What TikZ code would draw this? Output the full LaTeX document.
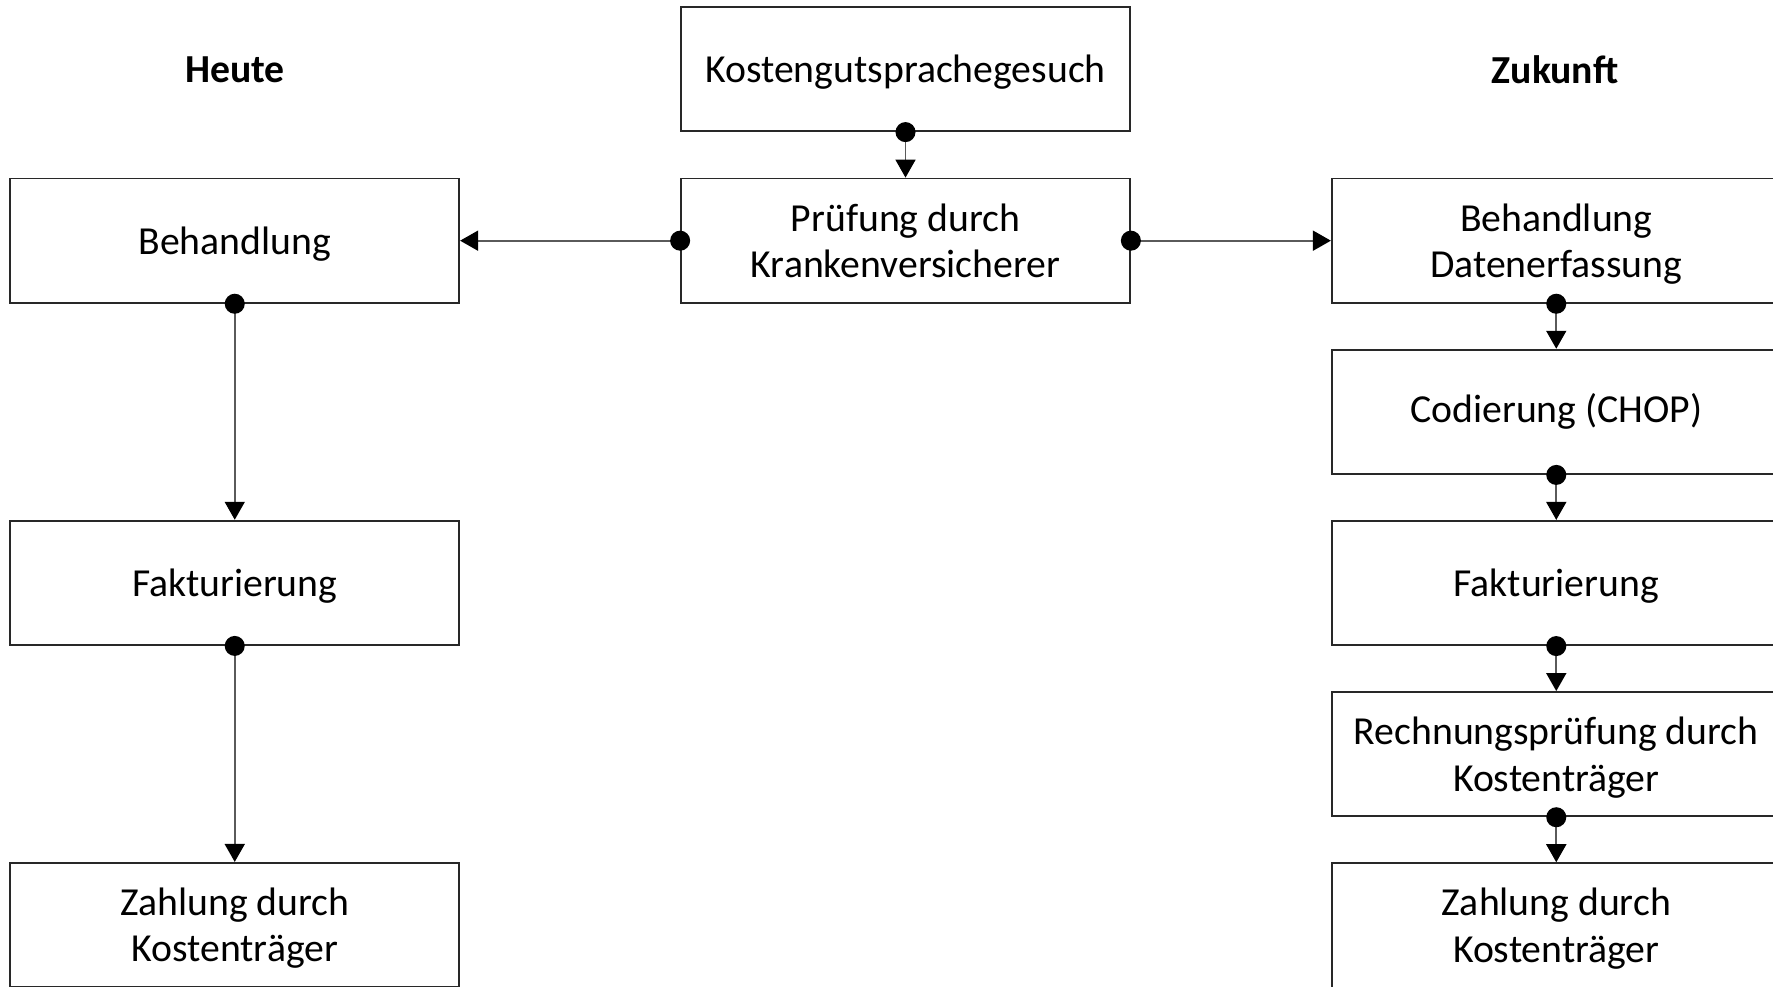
\documentclass[tikz,border=0pt]{standalone}
\usepackage{fontspec}
\setmainfont{Carlito}
\usepackage{tikz}
\usetikzlibrary{arrows.meta, positioning}
\definecolor{boxline}{RGB}{40, 40, 40}
\definecolor{linkgray}{RGB}{90, 90, 90}

\begin{document}
\begin{tikzpicture}[
  node distance=0.45cm and 2.0cm,
  box/.style={
    rectangle, draw=boxline, line width=0.5pt,
    minimum width=4.49cm, minimum height=1.244cm,
    align=center, inner sep=0pt,
    font=\fontsize{11.3}{13.2}\selectfont
  },
  nodepth/.style={text depth=0pt},
  title/.style={font=\fontsize{11.3}{13.2}\selectfont\bfseries},
  arrow/.style={
    {Circle[length=0.2cm, color=black]}-{Triangle[width=0.2cm, length=0.18cm, color=black]},
    shorten <=-0.1cm, draw=linkgray, line width=0.5pt
  }
]
  \useasboundingbox (0,0) rectangle (17.73,-9.86);

  % middle
  \node[box, nodepth] (gesuch) at (9.055,-0.69) {Kostengutsprachegesuch};
  \node[box, below=0.455cm of gesuch] (pruef) {Prüfung durch\\Krankenversicherer};

  % heute
  \node[box, nodepth, left=2.20cm of pruef] (lbeh) {Behandlung};
  \node[box, nodepth, below=2.16cm of lbeh] (lfak) {Fakturierung};
  \node[box, nodepth, below=2.16cm of lfak] (lzahl) {Zahlung durch\\Kostenträger};
  \node[title] (heute) at (2.35,-0.70) {Heute};

  % zukunft
  \node[box, nodepth, right=of pruef] (rbeh) {Behandlung\\Datenerfassung};
  \node[box, below=of rbeh] (rcod) {Codierung (CHOP)};
  \node[box, nodepth, below=of rcod] (rfak) {Fakturierung};
  \node[box, nodepth, below=of rfak] (rrech) {Rechnungsprüfung durch\\Kostenträger};
  \node[box, nodepth, below=of rrech] (rzahl) {Zahlung durch\\Kostenträger};
  \node[title] (zukunft) at (15.55,-0.70) {Zukunft};

  \draw[arrow] (gesuch.south)--(pruef.north);
  \draw[arrow] (pruef.west)--(lbeh.east);
  \draw[arrow] (pruef.east)--(rbeh.west);

  \draw[arrow] (lbeh.south)--(lfak.north);
  \draw[arrow] (lfak.south)--(lzahl.north);

  \draw[arrow] (rbeh.south)--(rcod.north);
  \draw[arrow] (rcod.south)--(rfak.north);
  \draw[arrow] (rfak.south)--(rrech.north);
  \draw[arrow] (rrech.south)--(rzahl.north);
\end{tikzpicture}
\end{document}
